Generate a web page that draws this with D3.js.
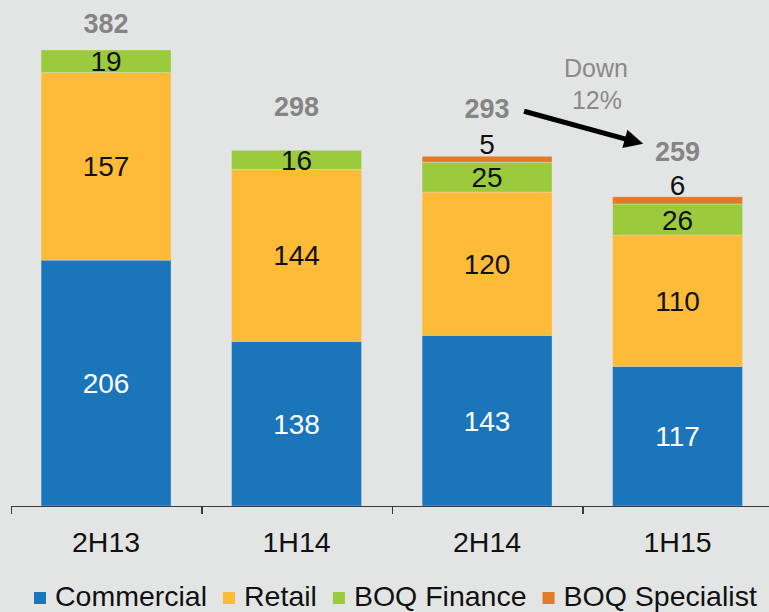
<!DOCTYPE html>
<html>
<head>
  <meta charset="utf-8">
  <title>Impaired assets by segment</title>
  <script src="https://d3js.org/d3.v7.min.js"></script>
  <style>
    body { margin: 0; background: #e3e5e4; }
    svg { display: block; font-family: "Liberation Sans", Arial, sans-serif; }
    .xlab .tick text { font-size: 28.5px; fill: #111; }
    .xlab .domain { display: none; }
    .bounds path, .bounds line { stroke: #3a3a3a; stroke-width: 1.5; shape-rendering: crispEdges; }
  </style>
</head>
<body>
<script>
  // data
  var categories = ["2H13", "1H14", "2H14", "1H15"];
  var seriesNames = ["Commercial", "Retail", "BOQ Finance", "BOQ Specialist"];
  var commercial = [206, 138, 143, 117];
  var retail = [157, 144, 120, 110];
  var boqFinance = [19, 16, 25, 26];
  var boqSpecialist = [0, 0, 5, 6];
  var totals = [382, 298, 293, 259];

  var colors = ["#1b75bb", "#fdbb38", "#9bcb3c", "#e07b29"];

  var w = 769, h = 612;
  var baseY = 506;

  var svg = d3.select("body").append("svg")
    .attr("width", w)
    .attr("height", h);

  svg.append("rect").attr("width", w).attr("height", h).attr("fill", "#e3e5e4");

  var table = categories.map(function(c, i) {
    return {cat: c, "Commercial": commercial[i], "Retail": retail[i],
            "BOQ Finance": boqFinance[i], "BOQ Specialist": boqSpecialist[i], total: totals[i]};
  });

  var xScale = d3.scaleBand()
    .domain(categories)
    .range([10.8, 772.8])
    .paddingInner(0.318)
    .paddingOuter(0.159);

  var yScale = d3.scaleLinear()
    .domain([0, 382])
    .range([baseY, 50]);

  var stacked = d3.stack().keys(seriesNames)(table);

  var layers = svg.selectAll("g.layer")
    .data(stacked)
    .enter().append("g")
    .attr("class", "layer")
    .attr("fill", function(d, i) { return colors[i]; });

  layers.selectAll("rect")
    .data(function(d) { return d; })
    .enter().append("rect")
    .attr("x", function(d) { return xScale(d.data.cat); })
    .attr("y", function(d) { return yScale(d[1]); })
    .attr("width", xScale.bandwidth())
    .attr("height", function(d) { return yScale(d[0]) - yScale(d[1]); })
    .attr("stroke", "#e3e5e4")
    .attr("stroke-width", 0.6)
    .attr("stroke-opacity", 0.6);

  // labels inside segments (first three series)
  stacked.slice(0, 3).forEach(function(layer, li) {
    svg.selectAll(null)
      .data(layer)
      .enter().append("text")
      .attr("x", function(d) { return xScale(d.data.cat) + xScale.bandwidth() / 2; })
      .attr("y", function(d) { return (yScale(d[0]) + yScale(d[1])) / 2; })
      .attr("dy", "0.36em")
      .attr("text-anchor", "middle")
      .attr("font-size", "28px")
      .attr("fill", li === 0 ? "#ffffff" : "#111")
      .text(function(d) { return d[1] - d[0]; });
  });

  // specialist labels above the bars
  svg.selectAll(null)
    .data(stacked[3].filter(function(d) { return d[1] - d[0] > 0; }))
    .enter().append("text")
    .attr("x", function(d) { return xScale(d.data.cat) + xScale.bandwidth() / 2; })
    .attr("y", function(d) { return yScale(d[1]) - 2; })
    .attr("text-anchor", "middle")
    .attr("font-size", "28px")
    .attr("fill", "#111")
    .text(function(d) { return d[1] - d[0]; });

  // totals
  var totalLift = [17, 34, 38, 36];
  svg.selectAll(null)
    .data(table)
    .enter().append("text")
    .attr("x", function(d) { return xScale(d.cat) + xScale.bandwidth() / 2; })
    .attr("y", function(d, i) { return yScale(d.total) - totalLift[i]; })
    .attr("text-anchor", "middle")
    .attr("font-size", "27px")
    .attr("font-weight", "bold")
    .attr("fill", "#858585")
    .text(function(d) { return d.total; });

  // axis: boundary ticks
  var bScale = d3.scaleLinear().domain([0, categories.length]).range([10.8, 772.8]);
  svg.append("g")
    .attr("class", "bounds")
    .attr("transform", "translate(0," + baseY + ")")
    .call(d3.axisBottom(bScale).ticks(4).tickSize(8).tickSizeOuter(0).tickFormat(""));

  svg.append("g")
    .attr("class", "xlab")
    .attr("transform", "translate(0," + baseY + ")")
    .call(d3.axisBottom(xScale).tickSize(0).tickPadding(26));

  // arrow annotation
  var defs = svg.append("defs");
  defs.append("marker")
    .attr("id", "head")
    .attr("viewBox", "0 0 10 10")
    .attr("refX", 2).attr("refY", 5)
    .attr("markerWidth", 4.6).attr("markerHeight", 3.8)
    .attr("markerUnits", "strokeWidth")
    .attr("orient", "auto")
    .append("path")
    .attr("d", "M0,0 L10,5 L0,10 z")
    .attr("fill", "#000");

  var x2 = xScale("2H14") + xScale.bandwidth() / 2;
  var x3 = xScale("1H15") + xScale.bandwidth() / 2;
  svg.append("line")
    .attr("x1", x2 + 37).attr("y1", yScale(totals[2]) - 45)
    .attr("x2", x3 - 49).attr("y2", yScale(totals[3]) - 57)
    .attr("stroke", "#000")
    .attr("stroke-width", 5)
    .attr("marker-end", "url(#head)");

  svg.append("text")
    .attr("x", 596).attr("y", 77)
    .attr("text-anchor", "middle")
    .attr("font-size", "25px")
    .attr("fill", "#8a8a8a")
    .text("Down");
  svg.append("text")
    .attr("x", 597).attr("y", 109)
    .attr("text-anchor", "middle")
    .attr("font-size", "25px")
    .attr("fill", "#8a8a8a")
    .text("12%");

  // legend
  var legend = svg.append("g").attr("transform", "translate(34,0)");
  var lx = 0;
  seriesNames.forEach(function(name, i) {
    legend.append("rect")
      .attr("x", lx).attr("y", 592)
      .attr("width", 12).attr("height", 12)
      .attr("fill", colors[i]);
    var t = legend.append("text")
      .attr("x", lx + 21).attr("y", 606)
      .attr("font-size", "28.5px")
      .attr("fill", "#111")
      .text(name);
    lx += 21 + t.node().getComputedTextLength() + 16;
  });
</script>
</body>
</html>
